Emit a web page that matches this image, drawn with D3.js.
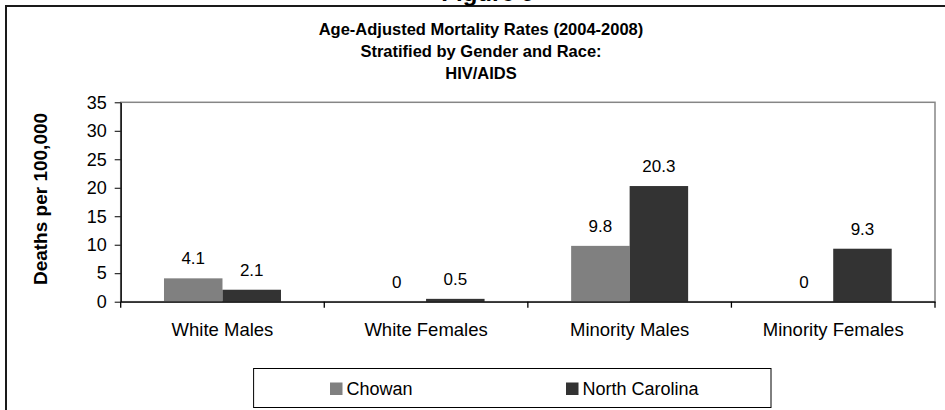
<!DOCTYPE html>
<html>
<head>
<meta charset="utf-8">
<script src="https://unpkg.com/d3@7/dist/d3.min.js"></script>
<style>
  body { margin: 0; background: #fff; }
  svg { display: block; font-family: Arial, "Liberation Sans", sans-serif; }
</style>
</head>
<body>
<div id="wrapper"></div>
<script>
const categories = ["White Males", "White Females", "Minority Males", "Minority Females"]
const seriesNames = ["Chowan", "North Carolina"]
const chowanValues = [4.1, 0, 9.8, 0]
const ncValues = [2.1, 0.5, 20.3, 9.3]
const yTicks = [0, 5, 10, 15, 20, 25, 30, 35]
const titleLines = ["Age-Adjusted Mortality Rates (2004-2008)", "Stratified by Gender and Race:", "HIV/AIDS"]
const colors = { "Chowan": "#808080", "North Carolina": "#333333" }

function drawChart() {
  const data = categories.map((c, i) => ({
    category: c,
    values: [
      { series: "Chowan", value: chowanValues[i] },
      { series: "North Carolina", value: ncValues[i] },
    ]
  }))

  let dimensions = {
    width: 945,
    height: 410,
    margins: { top: 102.3, right: 10, bottom: 108.3, left: 120.7 }
  }
  dimensions.boundedWidth = dimensions.width - dimensions.margins.left - dimensions.margins.right
  dimensions.boundedHeight = dimensions.height - dimensions.margins.top - dimensions.margins.bottom

  const wrapper = d3.select("#wrapper")
    .append("svg")
      .attr("width", dimensions.width)
      .attr("height", dimensions.height)

  // outer frame of the figure (cut off at the top and right)
  wrapper.append("path")
      .attr("d", "M6,410 V6 H945")
      .attr("fill", "none")
      .attr("stroke", "#1a1a1a")
      .attr("stroke-width", 2)

  wrapper.append("text")
      .attr("x", 488)
      .attr("y", 1)
      .attr("text-anchor", "middle")
      .style("font-size", "24px")
      .style("font-weight", "bold")
      .text("Figure 9")

  const title = wrapper.append("g")
  title.selectAll("text")
    .data(titleLines)
    .join("text")
      .attr("x", 481)
      .attr("y", (d, i) => 34.5 + i * 22.3)
      .attr("text-anchor", "middle")
      .style("font-size", "16.5px")
      .style("font-weight", "bold")
      .text(d => d)

  const bounds = wrapper.append("g")
      .attr("transform", `translate(${dimensions.margins.left}, ${dimensions.margins.top})`)

  const xScale = d3.scaleBand()
    .domain(categories)
    .range([0, dimensions.boundedWidth])
    .padding(0)

  const xSeries = d3.scaleBand()
    .domain(seriesNames)
    .range([0, xScale.bandwidth()])
    .paddingInner(0)
    .paddingOuter(0.74)

  const yScale = d3.scaleLinear()
    .domain([0, 35])
    .range([dimensions.boundedHeight, 0])

  // plot area border
  bounds.append("rect")
      .attr("x", 0)
      .attr("y", 0)
      .attr("width", dimensions.boundedWidth)
      .attr("height", dimensions.boundedHeight)
      .attr("fill", "none")
      .attr("stroke", "#868686")
      .attr("stroke-width", 1.5)

  // bars
  const groups = bounds.selectAll(".group")
    .data(data)
    .join("g")
      .attr("class", "group")
      .attr("transform", d => `translate(${xScale(d.category)}, 0)`)

  groups.selectAll("rect")
    .data(d => d.values)
    .join("rect")
      .attr("x", d => xSeries(d.series))
      .attr("y", d => yScale(d.value))
      .attr("width", xSeries.bandwidth())
      .attr("height", d => dimensions.boundedHeight - yScale(d.value))
      .attr("fill", d => colors[d.series])

  groups.selectAll("text")
    .data(d => d.values)
    .join("text")
      .attr("x", d => xSeries(d.series) + xSeries.bandwidth() / 2)
      .attr("y", d => yScale(d.value) - 14)
      .attr("text-anchor", "middle")
      .style("font-size", "17px")
      .text(d => d.value)

  // y axis
  const yAxisGenerator = d3.axisLeft()
      .scale(yScale)
      .tickValues(yTicks)
      .tickSize(6)
      .tickSizeOuter(0)
      .tickPadding(8)

  const yAxis = bounds.append("g")
      .call(yAxisGenerator)
      .style("font-size", "18px")
      .style("font-family", "Arial, 'Liberation Sans', sans-serif")
  yAxis.select(".domain").attr("stroke", "#000").attr("stroke-width", 1.3)
  yAxis.selectAll("text").attr("fill", "#000")

  const yAxisLabel = wrapper.append("text")
      .attr("transform", "translate(46.5, 199) rotate(-90)")
      .attr("text-anchor", "middle")
      .style("font-size", "19px")
      .style("font-weight", "bold")
      .text("Deaths per 100,000")

  // x axis: labels centered, ticks at the category boundaries
  const xAxisGenerator = d3.axisBottom()
      .scale(xScale)
      .tickSize(0)
      .tickSizeOuter(0)
      .tickPadding(34)

  const xAxis = bounds.append("g")
      .call(xAxisGenerator)
      .attr("transform", `translate(0, ${dimensions.boundedHeight})`)
      .style("font-size", "18.5px")
      .style("font-family", "Arial, 'Liberation Sans', sans-serif")
  xAxis.select(".domain").attr("stroke", "#000").attr("stroke-width", 1.3)
  xAxis.selectAll("text").attr("fill", "#000").attr("dy", 0)

  const boundaries = categories.map(c => xScale(c)).concat([dimensions.boundedWidth])
  xAxis.selectAll(".boundary")
    .data(boundaries)
    .join("line")
      .attr("class", "boundary")
      .attr("x1", d => d)
      .attr("x2", d => d)
      .attr("y1", 0)
      .attr("y2", 6)
      .attr("stroke", "#000")
      .attr("stroke-width", 1.3)

  // legend
  const legend = wrapper.append("g")
  legend.append("rect")
      .attr("x", 253.6)
      .attr("y", 368.5)
      .attr("width", 517.4)
      .attr("height", 39)
      .attr("fill", "#fff")
      .attr("stroke", "#000")
      .attr("stroke-width", 1)

  const legendX = d3.scaleOrdinal()
    .domain(seriesNames)
    .range([330, 566])

  const items = legend.selectAll(".item")
    .data(seriesNames)
    .join("g")
      .attr("class", "item")
      .attr("transform", d => `translate(${legendX(d)}, 0)`)
  items.append("rect")
      .attr("x", 0)
      .attr("y", 382.5)
      .attr("width", 12.5)
      .attr("height", 12.5)
      .attr("fill", d => colors[d])
  items.append("text")
      .attr("x", 16.5)
      .attr("y", 395)
      .style("font-size", "18px")
      .text(d => d)
}

drawChart()
</script>
</body>
</html>
